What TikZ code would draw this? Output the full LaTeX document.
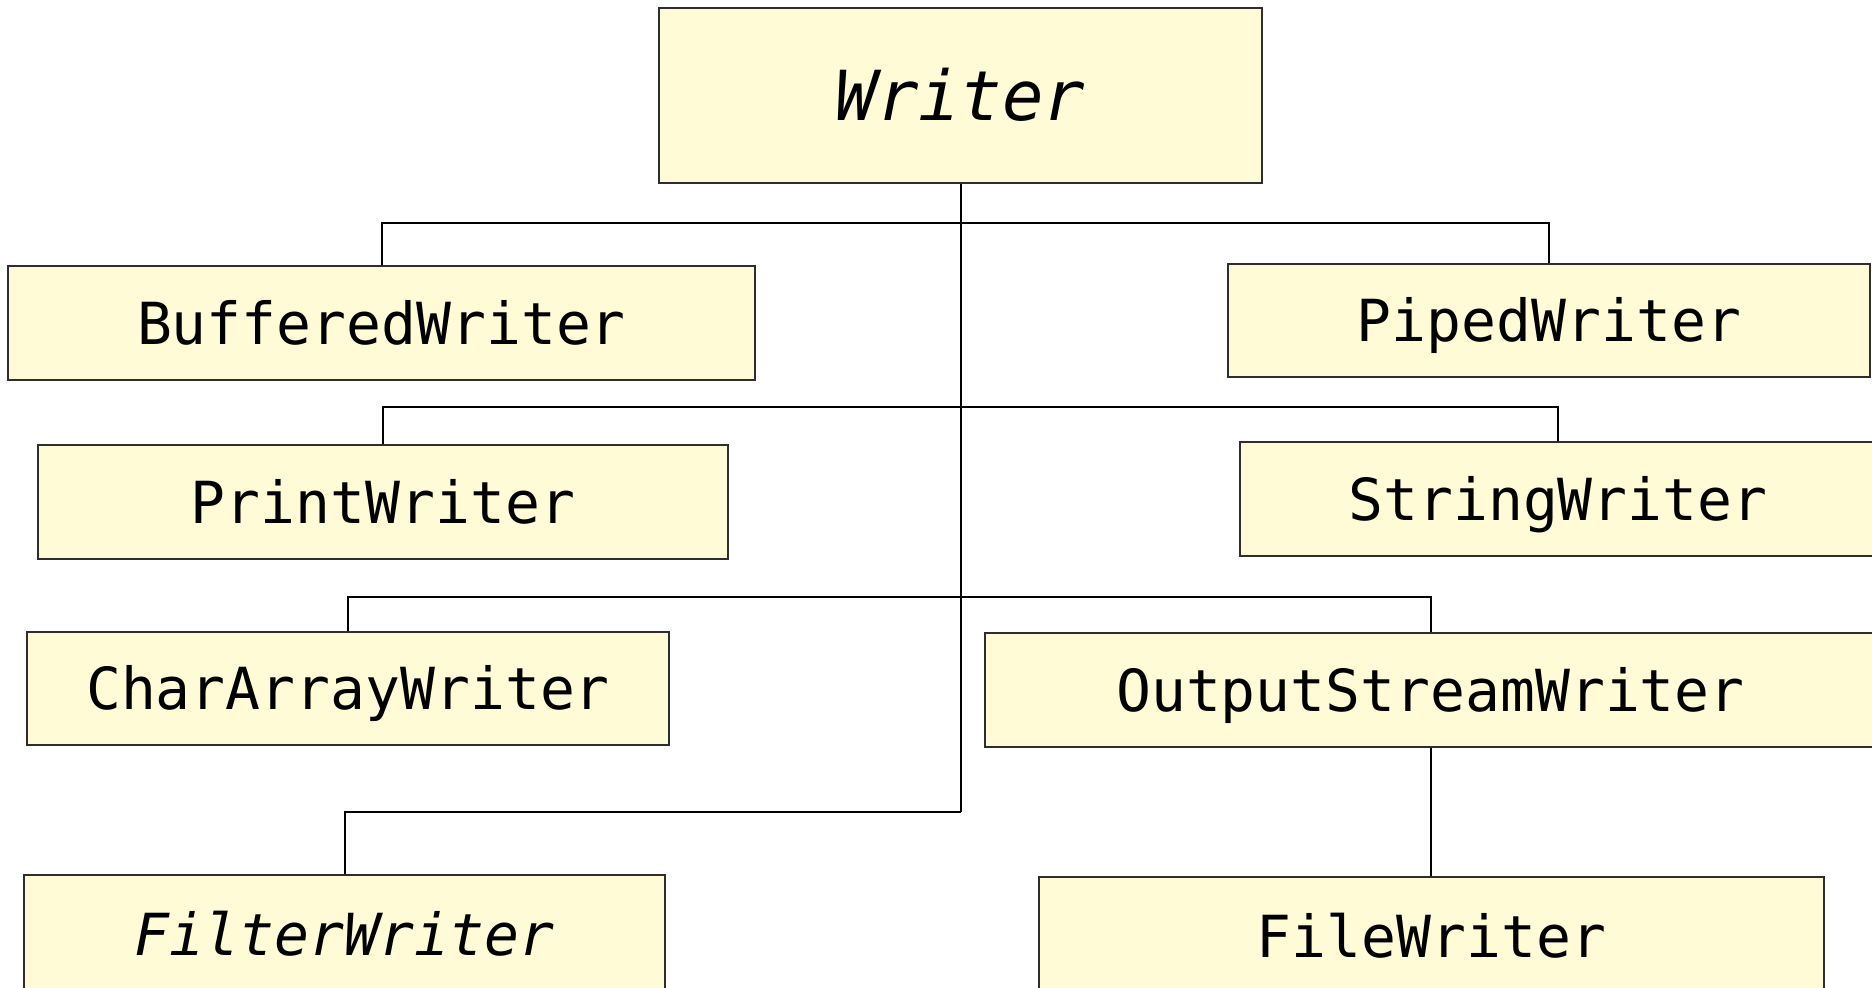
\documentclass[tikz,border=0pt]{standalone}
\usepackage{fontspec}
\setmonofont{DejaVu Sans Mono}
\definecolor{classfill}{HTML}{FEFBD6}
\definecolor{classline}{HTML}{2E2E2E}
\tikzset{
  cls/.style={draw=classline, fill=classfill, line width=2pt, rectangle,
    inner sep=0pt, anchor=center, text=black,
    font=\ttfamily\fontsize{58}{70}\selectfont, text height=42pt, text depth=0pt},
  abstractcls/.style={cls, font=\ttfamily\itshape\fontsize{69}{80}\selectfont,
    text height=50pt},
  link/.style={draw=black, line width=2pt, line join=miter}
}
\begin{document}
\begin{tikzpicture}[x=1pt, y=-1pt]
  \path[use as bounding box] (0,0) rectangle (1872,988);

  % class boxes
  \node[abstractcls, minimum width=603pt, minimum height=175pt] (writer) at (960.5,95.5) {Writer};
  \node[cls, minimum width=747pt, minimum height=114pt] (buffered) at (381.5,323) {BufferedWriter};
  \node[cls, minimum width=642pt, minimum height=113pt] (piped) at (1549,320.5) {PipedWriter};
  \node[cls, minimum width=690pt, minimum height=114pt] (print) at (383,502) {PrintWriter};
  \node[cls, minimum width=636pt, minimum height=114pt] (string) at (1558,499) {StringWriter};
  \node[cls, minimum width=642pt, minimum height=113pt] (chararray) at (348,688.5) {CharArrayWriter};
  \node[cls, minimum width=891pt, minimum height=114pt] (osw) at (1430.5,690) {OutputStreamWriter};
  \node[abstractcls, font=\ttfamily\itshape\fontsize{58}{70}\selectfont, text height=42pt,
        minimum width=641pt, minimum height=118pt] (filter) at (344.5,934) {FilterWriter};
  \node[cls, minimum width=785pt, minimum height=118pt] (file) at (1431.5,936) {FileWriter};

  % bus levels on the trunk below Writer
  \coordinate (bus1) at (writer.south |- 0,223);
  \coordinate (bus2) at (writer.south |- 0,407);
  \coordinate (bus3) at (writer.south |- 0,597);
  \coordinate (bus4) at (writer.south |- 0,812);

  % inheritance connectors
  \draw[link] (writer.south) -- (bus4);
  \draw[link] (bus1) -| (buffered.north);
  \draw[link] (bus1) -| (piped.north);
  \draw[link] (bus2) -| (print.north);
  \draw[link] (bus2) -| (string.north);
  \draw[link] (bus3) -| (chararray.north);
  \draw[link] (bus3) -| (osw.north);
  \draw[link] (bus4) -| (filter.north);
  \draw[link] (osw.south) -- (osw.south |- file.north);
\end{tikzpicture}
\end{document}
